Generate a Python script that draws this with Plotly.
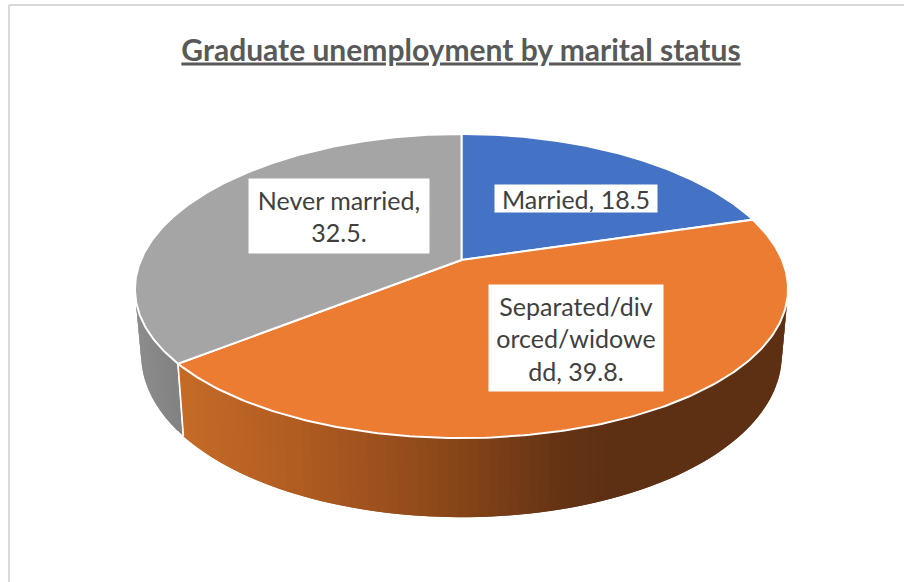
"""Graduate unemployment by marital status, drawn as a tilted 3D pie."""
import numpy as np
import plotly.graph_objects as go

categories = ["Married", "Separated/divorced/widowed", "Never married"]
values = [18.5, 39.8, 32.5]
label_texts = ["Married, 18.5", "Separated/div<br>orced/widowe<br>dd, 39.8.", "Never married,<br>32.5."]
top_colors = ["#4472c4", "#eb7c31", "#a5a5a5"]

# label boxes: left, right, top, bottom in pixels
label_boxes = [(495, 657, 185, 212), (489, 663, 285, 391), (249, 429, 179, 253)]

# pie projection in pixels
CX = 461.5
TOP_Y, TOP_R, TOP_H = 260, 320.6, 147.6
BASE_Y, BASE_R, BASE_H = 323, 314.5, 161
K_X, K_Y = 0.19, 0.171

# shading of the side wall, by pixel x
ORANGE_X = [185, 300, 350, 450, 560, 610]
ORANGE_RGB = [(197, 107, 40), (176, 92, 34), (164, 85, 31), (138, 71, 25), (101, 52, 21), (94, 48, 19)]
GRAY_X = [135, 185]
GRAY_RGB = [(142, 142, 142), (128, 128, 128)]


def project(theta, cy, r, h):
    """Angle clockwise from the back of the pie to pixel position."""
    u, v = np.sin(theta), np.cos(theta)
    return CX + r * u / (1 + K_X * v), cy - h * v / (1 + K_Y * v)


def shade(x, xs, rgbs):
    rgb = [np.interp(x, xs, [c[i] for c in rgbs]) for i in range(3)]
    return "rgb(%d,%d,%d)" % tuple(rgb)


fractions = np.cumsum([0] + values) / sum(values)
angles = 2 * np.pi * fractions

fig = go.Figure()

# side wall, only the part facing the viewer; each strip overlaps the next
# one so no seams show through the gradient
side_start = np.arccos(-K_X)
side_end = 2 * np.pi - side_start
step = np.radians(1.5)
for a0 in np.arange(side_start, side_end, step):
    split = angles[2]
    a1 = a0 + 2 * step
    # keep the overlap of the orange wall from running past the seam
    if a0 < split:
        a1 = min(a1, split)
    else:
        a1 = min(a1, side_end)
    arc = np.linspace(a0, a1, 6)
    x_top, y_top = project(arc, TOP_Y, TOP_R, TOP_H)
    x_base, y_base = project(arc, BASE_Y, BASE_R, BASE_H)
    xm = (project(a0 + step / 2, TOP_Y, TOP_R, TOP_H)[0] + project(a0 + step / 2, BASE_Y, BASE_R, BASE_H)[0]) / 2
    if a0 < split:
        color = shade(xm, ORANGE_X, ORANGE_RGB)
    else:
        color = shade(xm, GRAY_X, GRAY_RGB)
    fig.add_trace(go.Scatter(
        x=np.r_[x_top, x_base[::-1]], y=np.r_[y_top, y_base[::-1]],
        mode="lines", fill="toself", fillcolor=color,
        line=dict(width=0),
        hoverinfo="skip", showlegend=False,
    ))

# seam between the orange and gray walls
seam_top = project(angles[2], TOP_Y, TOP_R, TOP_H)
seam_base = project(angles[2], BASE_Y, BASE_R, BASE_H)
fig.add_trace(go.Scatter(
    x=[seam_top[0], seam_base[0]], y=[seam_top[1], seam_base[1]],
    mode="lines", line=dict(color="white", width=1.5),
    hoverinfo="skip", showlegend=False,
))

# top face
for i, name in enumerate(categories):
    arc = np.linspace(angles[i], angles[i + 1], 200)
    x, y = project(arc, TOP_Y, TOP_R, TOP_H)
    fig.add_trace(go.Scatter(
        x=np.r_[CX, x, CX], y=np.r_[TOP_Y, y, TOP_Y],
        mode="lines", fill="toself", fillcolor=top_colors[i],
        line=dict(color="white", width=2),
        name=name, text=f"{name}: {values[i]}", hoverinfo="text", showlegend=False,
    ))

# data labels on white boxes
for text, (left, right, top, bottom) in zip(label_texts, label_boxes):
    fig.add_annotation(
        x=(left + right) / 2, y=(top + bottom) / 2, xref="x", yref="y",
        text=text, showarrow=False, align="center", valign="middle",
        width=right - left, height=bottom - top, borderpad=0, bgcolor="white",
        font=dict(family="Lato", size=25, color="#404040"),
    )

# chart area border, left and top only
fig.add_shape(type="line", x0=9, x1=9, y0=5, y1=582, line=dict(color="#d9d9d9", width=2))
fig.add_shape(type="line", x0=9, x1=904, y0=5, y1=5, line=dict(color="#d9d9d9", width=2))

fig.update_layout(
    width=904, height=582,
    margin=dict(l=0, r=0, t=0, b=0),
    paper_bgcolor="white", plot_bgcolor="white",
    title=dict(
        text="<b>Graduate unemployment by marital status</b>",
        x=461 / 904, xanchor="center", y=1 - 50 / 582, yanchor="middle",
        font=dict(family="Lato", size=30, color="#595959", lineposition="under"),
    ),
    xaxis=dict(range=[0, 904], visible=False, fixedrange=True),
    yaxis=dict(range=[582, 0], visible=False, fixedrange=True),
)

fig.write_html("out.html", config=dict(displayModeBar=False),
               post_script="document.body.style.margin='0';")
